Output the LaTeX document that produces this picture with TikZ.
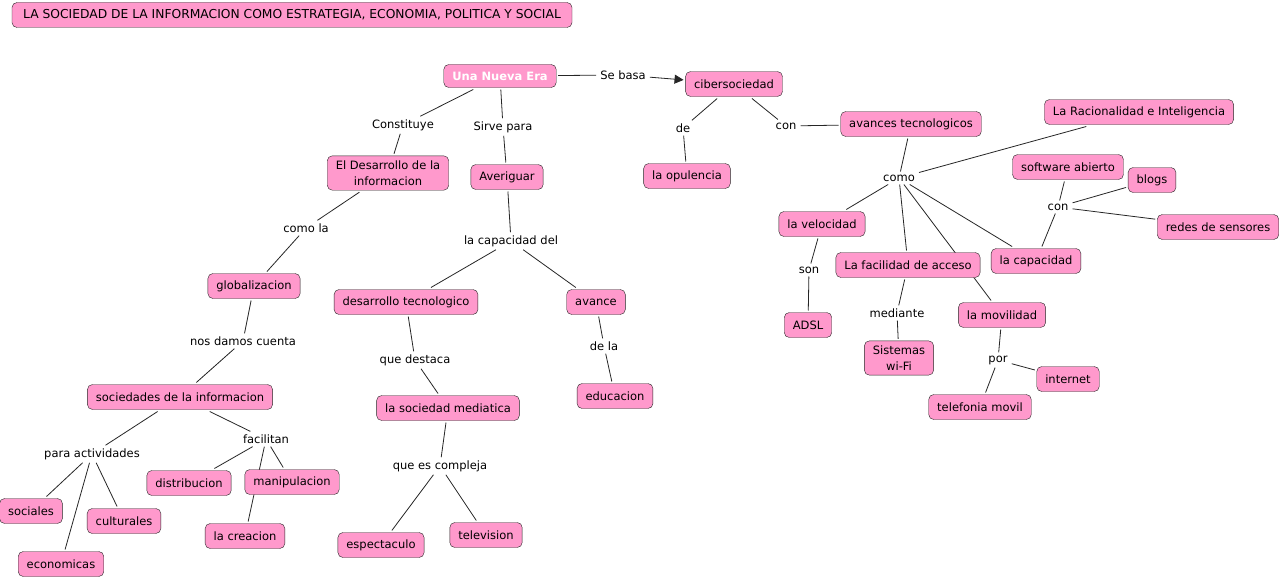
\documentclass[tikz,border=0pt]{standalone}
\usepackage{fontspec}
\setmainfont{DejaVu Sans}
\usetikzlibrary{arrows.meta, positioning, backgrounds}
\definecolor{cmappink}{RGB}{255,153,204}
\tikzset{
    concept/.style={
        rectangle, rounded corners=5pt, draw=black!85, fill=cmappink, minimum height=25pt,
        inner xsep=8.5pt, text centered, align=center, outer sep=2pt, font=\fontsize{11.5}{15.5}\selectfont
    },
    twoline/.style={
        concept, inner ysep=5pt
    },
    linkword/.style={
        inner xsep=4pt, inner ysep=3pt, font=\fontsize{11.5}{13}\selectfont
    },
    link/.style={
        draw=black!85, line width=0.8pt
    },
    arrow/.style={
        link, -{Triangle[length=9pt,width=9pt]}
    }
}

\begin{document}
\begin{tikzpicture}[x=1pt, y=-1pt]
    \useasboundingbox (0,0) rectangle (1284,578);

    % Title
    \node[concept, minimum width=560pt, font=\fontsize{12.3}{14}\selectfont] (title) at (292,15) {LA SOCIEDAD DE LA INFORMACION COMO ESTRATEGIA, ECONOMIA, POLITICA Y SOCIAL};

    % Top of the map
    \node[concept, minimum height=23pt, text=white, font=\fontsize{11.5}{13}\selectfont\bfseries] (era) at (500,76) {Una Nueva Era};
    \node[concept] (ciber) at (734,84) {cibersociedad};
    \node[linkword] (sebasa) at (623,75) {Se basa};
    \node[linkword] (constituye) at (403,125) {Constituye};
    \node[linkword] (sirve) at (503,127) {Sirve para};
    \node[twoline] (desarrollo) at (388,173) {El Desarrollo de la\\informacion};
    \node[concept] (averiguar) at (507,177) {Averiguar};

    % Cibersociedad branch
    \node[linkword] (de) at (683,128) {de};
    \node[linkword] (con) at (786,126) {con};
    \node[concept] (opulencia) at (687,176) {la opulencia};
    \node[concept] (avances) at (911,124) {avances tecnologicos};
    \node[concept] (racional) at (1139,112) {La Racionalidad e Inteligencia};
    \node[linkword] (como) at (899,178) {como};
    \node[concept] (software) at (1068,167) {software abierto};
    \node[concept] (blogs) at (1152,180) {blogs};
    \node[linkword] (conb) at (1058,207) {con};
    \node[concept] (redes) at (1218,227) {redes de sensores};
    \node[concept] (velocidad) at (822,224) {la velocidad};
    \node[linkword] (son) at (809,270) {son};
    \node[concept] (facilidad) at (908,265) {La facilidad de acceso};
    \node[concept] (capacidad) at (1036,261) {la capacidad};
    \node[concept] (adsl) at (808,325) {ADSL};
    \node[linkword] (mediante) at (897,313) {mediante};
    \node[twoline] (wifi) at (899,358) {Sistemas\\ wi-Fi};
    \node[concept] (movilidad) at (1002,315) {la movilidad};
    \node[linkword] (por) at (998,360) {por};
    \node[concept] (internet) at (1068,379) {internet};
    \node[concept] (telefonia) at (980,407) {telefonia movil};

    % Left branch
    \node[linkword] (comola) at (306,228) {como la};
    \node[concept] (global) at (254,286) {globalizacion};
    \node[linkword] (nosdamos) at (243,341) {nos damos cuenta};
    \node[concept] (sociedades) at (180,397) {sociedades de la informacion};
    \node[linkword] (para) at (92,454) {para actividades};
    \node[linkword] (facilitan) at (266,439) {facilitan};
    \node[concept] (sociales) at (31,511) {sociales};
    \node[concept] (culturales) at (124,521) {culturales};
    \node[concept] (economicas) at (61,564) {economicas};
    \node[concept] (distribucion) at (189,483) {distribucion};
    \node[concept] (manipulacion) at (292,482) {manipulacion};
    \node[concept] (creacion) at (245,536) {la creacion};

    % Middle branch
    \node[linkword] (capdel) at (511,241) {la capacidad del};
    \node[concept] (destec) at (406,302) {desarrollo tecnologico};
    \node[concept] (avance) at (596,302) {avance};
    \node[linkword] (destaca) at (415,360) {que destaca};
    \node[linkword] (dela) at (604,346) {de la};
    \node[concept] (mediatica) at (448,408) {la sociedad mediatica};
    \node[concept] (educacion) at (615,396) {educacion};
    \node[linkword] (compleja) at (440,466) {que es compleja};
    \node[concept] (espectaculo) at (381,545) {espectaculo};
    \node[concept] (television) at (486,535) {television};

    % Relationships
    \begin{scope}[on background layer]
        \fill[white] (0,0) rectangle (1284,578);
        \draw[link] (era) -- (sebasa);
        \draw[arrow] (sebasa) -- (ciber);
        \draw[link] (era) -- (constituye) -- (desarrollo);
        \draw[link] (era) -- (sirve) -- (averiguar);
        \draw[link] (ciber) -- (de) -- (opulencia);
        \draw[link] (ciber) -- (con) -- (avances);
        \draw[link] (avances) -- (como);
        \draw[link] (racional) -- (como);
        \foreach \t in {velocidad, facilidad, movilidad, capacidad}
            \draw[link] (como) -- (\t);
        \draw[link] (capacidad) -- (conb) -- (software);
        \draw[link] (conb) -- (blogs);
        \draw[link] (conb) -- (redes);
        \draw[link] (velocidad) -- (son) -- (adsl);
        \draw[link] (facilidad) -- (mediante) -- (wifi);
        \draw[link] (movilidad) -- (por) -- (telefonia);
        \draw[link] (por) -- (internet);
        \draw[link] (desarrollo) -- (comola) -- (global);
        \draw[link] (global) -- (nosdamos) -- (sociedades);
        \draw[link] (sociedades) -- (para);
        \foreach \t in {sociales, economicas, culturales}
            \draw[link] (para) -- (\t);
        \draw[link] (sociedades) -- (facilitan);
        \foreach \t in {distribucion, manipulacion, creacion}
            \draw[link] (facilitan) -- (\t);
        \draw[link] (averiguar) -- (capdel);
        \draw[link] (capdel) -- (destec);
        \draw[link] (capdel) -- (avance);
        \draw[link] (destec) -- (destaca) -- (mediatica);
        \draw[link] (avance) -- (dela) -- (educacion);
        \draw[link] (mediatica) -- (compleja);
        \draw[link] (compleja) -- (espectaculo);
        \draw[link] (compleja) -- (television);
    \end{scope}

\end{tikzpicture}
\end{document}
